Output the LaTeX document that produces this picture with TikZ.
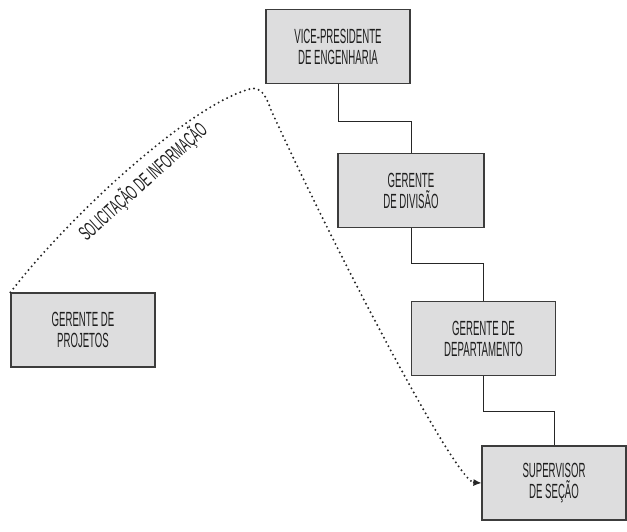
\documentclass[tikz,border=0pt]{standalone}
\usepackage{fontspec}
\setmainfont{Liberation Sans}[FakeStretch=0.47]
\newfontfamily\rotulofont{Liberation Sans}[FakeStretch=0.52]
\usetikzlibrary{arrows.meta}
\definecolor{boxfill}{RGB}{221,221,222}
\definecolor{boxline}{RGB}{60,60,60}
\definecolor{textgray}{RGB}{30,30,30}
\tikzset{
  cargo/.style={draw=boxline,line width=1.2pt,fill=boxfill,rectangle,minimum width=144pt,minimum height=74pt,align=center,text=textgray,font=\fontsize{20.5}{21}\selectfont},
  ligacao/.style={draw=black!85,line width=1pt},
  pontilhado/.style={line width=2.2pt,line cap=round,dash pattern=on 0pt off 4.8pt,black!85}
}
\begin{document}
\begin{tikzpicture}[x=1pt,y=-1pt]
          \useasboundingbox (0,0) rectangle (627,531);
          \node [cargo] (vp) at (338,46.5) {VICE-PRESIDENTE\\DE ENGENHARIA};
          \node [cargo,minimum width=146pt] (divisao) at (411,190.5) {GERENTE\\DE DIVISÃO};
          \node [cargo] (depto) at (483.5,338.5) {GERENTE DE\\DEPARTAMENTO};
          \node [cargo] (supervisor) at (554,483) {SUPERVISOR\\DE SEÇÃO};
          \node [cargo] (projetos) at (83,330) {GERENTE DE\\PROJETOS};
          \draw [ligacao] (vp.south) -- ++(0,37) -| (divisao.north);
          \draw [ligacao] (divisao.south) -- ++(0,35) -| (depto.north);
          \draw [ligacao] (depto.south) -- ++(0,35) -| (supervisor.north);
          % pedido de informacao
          \draw [pontilhado] (projetos.north west) .. controls (70,215) and (190,105) .. (250,89) .. controls (261,86) and (266,96) .. (271,110) .. controls (335,250) and (435,440) .. (466,476) .. controls (470,481) .. (474,482);
          \draw [-{Latex[length=8pt,width=7pt]},black!85,line width=1pt] (473,482.5) -- (supervisor.west);
          \node [rotate=42,text=textgray,font=\rotulofont\fontsize{20.5}{21}\selectfont] (rotulo) at (143,182) {SOLICITAÇÃO DE INFORMAÇÃO};
      \end{tikzpicture}
\end{document}
